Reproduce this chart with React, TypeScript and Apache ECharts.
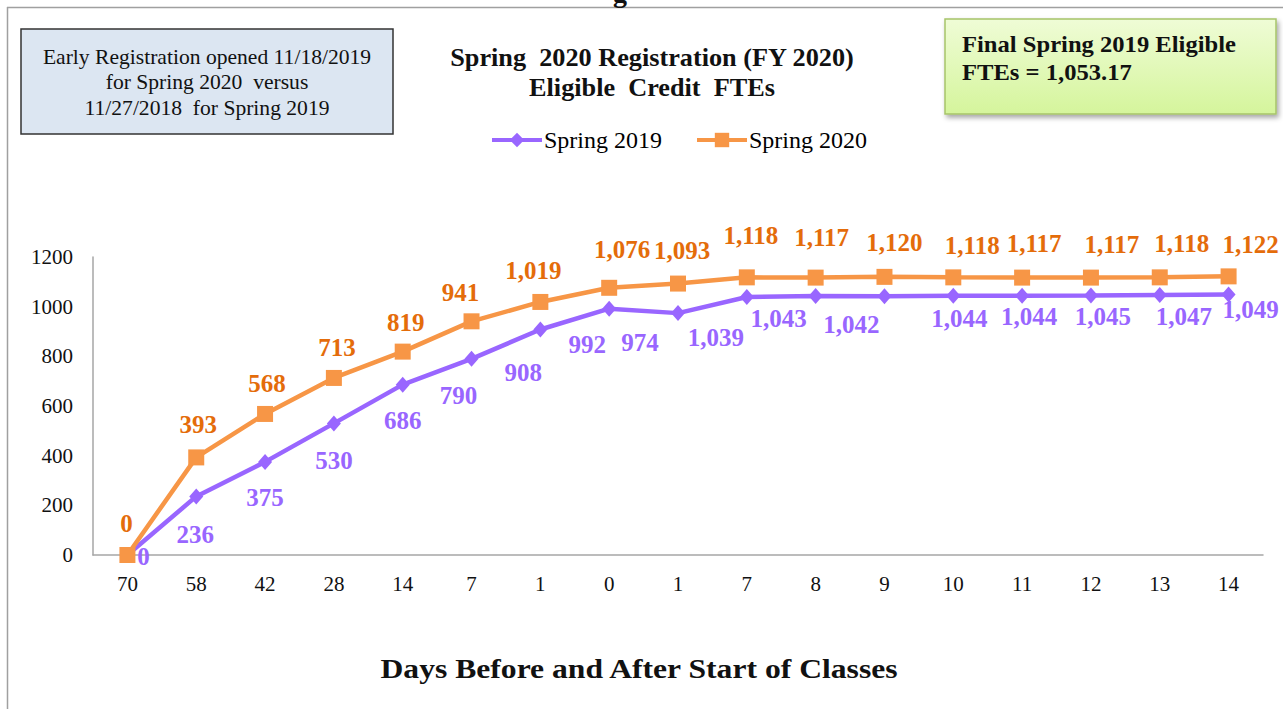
import React, { useEffect, useRef } from "react";
import * as echarts from "echarts";

const categories = ["70", "58", "42", "28", "14", "7", "1", "0", "1", "7", "8", "9", "10", "11", "12", "13", "14"];
const spring2019 = [0, 236, 375, 530, 686, 790, 908, 992, 974, 1039, 1043, 1042, 1044, 1044, 1045, 1047, 1049];
const spring2020 = [0, 393, 568, 713, 819, 941, 1019, 1076, 1093, 1118, 1117, 1120, 1118, 1117, 1117, 1118, 1122];
const yTicks = { min: 0, max: 1200, interval: 200 };

const titleLines = ["Spring  2020 Registration (FY 2020)", "Eligible  Credit  FTEs"];
const leftNote = ["Early Registration opened 11/18/2019", "for Spring 2020  versus", "11/27/2018  for Spring 2019"];
const rightNote = ["Final Spring 2019 Eligible", "FTEs = 1,053.17"];
const xAxisTitle = "Days Before and After Start of Classes";

// label placement tweaks (style, not data)
const offs2019: number[][] = [
  [16, 1], [-1, 38], [0, 36], [0, 37], [0, 36], [-13, 37], [-17, 43], [-22, 36], [-38, 29],
  [-31, 41], [-37, 23], [-33, 28], [6, 23], [7, 21], [12, 21], [24, 22], [22, 15],
];
const offs2020: number[][] = [
  [-1, -32], [2, -33], [2, -30], [3, -30], [3, -29], [-11, -29], [-7, -31], [13, -38], [4, -33],
  [4, -42], [6, -40], [10, -34], [19, -32], [12, -34], [21, -33], [22, -34], [22, -32],
];

const SERIF = "'Liberation Serif', 'Times New Roman', serif";
const PURPLE = "#9966ff";
const ORANGE = "#f79646";
const ORANGE_TXT = "#e46c0a";

const fmt = (v: number) => v.toLocaleString("en-US");

export default function App() {
  const ref = useRef<HTMLDivElement>(null);
  useEffect(() => {
    if (!ref.current) return;
    const chart = echarts.init(ref.current, null, { renderer: "svg" });
    const mk = (vals: number[], offs: number[][]) =>
      vals.map((v, i) => ({ value: v, label: { offset: offs[i] } }));
    chart.setOption({
      animation: false,
      backgroundColor: "#ffffff",
      grid: { left: 93, right: 20, top: 257, bottom: 154, containLabel: false },
      legend: {
        left: 490,
        top: 128,
        itemWidth: 50,
        itemHeight: 18,
        itemGap: 33,
        padding: 0,
        lineStyle: { width: 4 },
        textStyle: { fontFamily: SERIF, fontSize: 24, color: "#000", padding: [0, 0, 0, -3] },
        data: ["Spring 2019", "Spring 2020"],
      },
      xAxis: {
        type: "category",
        data: categories,
        boundaryGap: true,
        axisLine: { lineStyle: { color: "#a6a6a6", width: 1.5 } },
        axisTick: { show: false },
        axisLabel: { fontFamily: SERIF, fontSize: 21, color: "#111", margin: 18, interval: 0 },
      },
      yAxis: {
        type: "value",
        min: yTicks.min,
        max: yTicks.max,
        interval: yTicks.interval,
        axisLine: { show: true, lineStyle: { color: "#a6a6a6", width: 1.5 } },
        axisTick: { show: false },
        splitLine: { show: false },
        axisLabel: {
          fontFamily: SERIF,
          fontSize: 21,
          color: "#111",
          margin: 20,
          formatter: (v: number) => String(v),
        },
      },
      series: [
        {
          name: "Spring 2019",
          type: "line",
          data: mk(spring2019, offs2019),
          symbol: "diamond",
          symbolSize: [14, 16],
          lineStyle: { color: PURPLE, width: 4.5 },
          itemStyle: { color: PURPLE },
          label: {
            show: true,
            position: "inside",
            formatter: (p: any) => fmt(p.value),
            fontFamily: SERIF,
            fontSize: 25,
            fontWeight: "bold",
            color: PURPLE,
          },
          z: 2,
        },
        {
          name: "Spring 2020",
          type: "line",
          data: mk(spring2020, offs2020),
          symbol: "rect",
          symbolSize: 16,
          lineStyle: { color: ORANGE, width: 4.5 },
          itemStyle: { color: ORANGE },
          label: {
            show: true,
            position: "inside",
            formatter: (p: any) => fmt(p.value),
            fontFamily: SERIF,
            fontSize: 25,
            fontWeight: "bold",
            color: ORANGE_TXT,
          },
          z: 3,
        },
      ],
      graphic: [
        { type: "line", shape: { x1: 7, y1: 7.5, x2: 1283, y2: 7.5 }, style: { stroke: "#a0a0a0", lineWidth: 1.5 } },
        { type: "line", shape: { x1: 7.5, y1: 7, x2: 7.5, y2: 709 }, style: { stroke: "#a0a0a0", lineWidth: 1.5 } },
        {
          type: "text",
          x: 620,
          y: 6,
          style: { text: "g", font: `bold 28px ${SERIF}`, fill: "#111", align: "center", verticalAlign: "bottom" },
        },
        {
          type: "rect",
          shape: { x: 21, y: 29, width: 372, height: 105 },
          style: { fill: "#dce6f2", stroke: "#333333", lineWidth: 1.5 },
        },
        ...leftNote.map((t, i) => ({
          type: "text",
          x: 207,
          y: 57 + i * 25.5,
          scaleX: 1.08,
          style: { text: t, font: `20px ${SERIF}`, fill: "#111", align: "center", verticalAlign: "middle" },
        })),
        ...titleLines.map((t, i) => ({
          type: "text",
          x: 652,
          y: 58 + i * 30,
          scaleX: 1.05,
          style: { text: t, font: `bold 25px ${SERIF}`, fill: "#111", align: "center", verticalAlign: "middle" },
        })),
        {
          type: "rect",
          shape: { x: 945, y: 19, width: 331, height: 95 },
          style: {
            fill: new echarts.graphic.LinearGradient(0, 0, 0, 1, [
              { offset: 0, color: "#effcd6" },
              { offset: 1, color: "#d5f59c" },
            ]),
            stroke: "#a6c46a",
            lineWidth: 1.5,
            shadowBlur: 5,
            shadowOffsetX: 2,
            shadowOffsetY: 3,
            shadowColor: "rgba(0,0,0,0.35)",
          },
        },
        ...rightNote.map((t, i) => ({
          type: "text",
          x: 962,
          y: 44 + i * 28,
          scaleX: 1.07,
          style: { text: t, font: `bold 23px ${SERIF}`, fill: "#111", align: "left", verticalAlign: "middle" },
        })),
        {
          type: "text",
          x: 639,
          y: 668,
          scaleX: 1.13,
          style: { text: xAxisTitle, font: `bold 28px ${SERIF}`, fill: "#111", align: "center", verticalAlign: "middle" },
        },
      ],
    });
    return () => chart.dispose();
  }, []);
  return (
    <div
      ref={ref}
      style={{ position: "absolute", left: 0, top: 0, width: 1283, height: 709, background: "#fff" }}
    />
  );
}
